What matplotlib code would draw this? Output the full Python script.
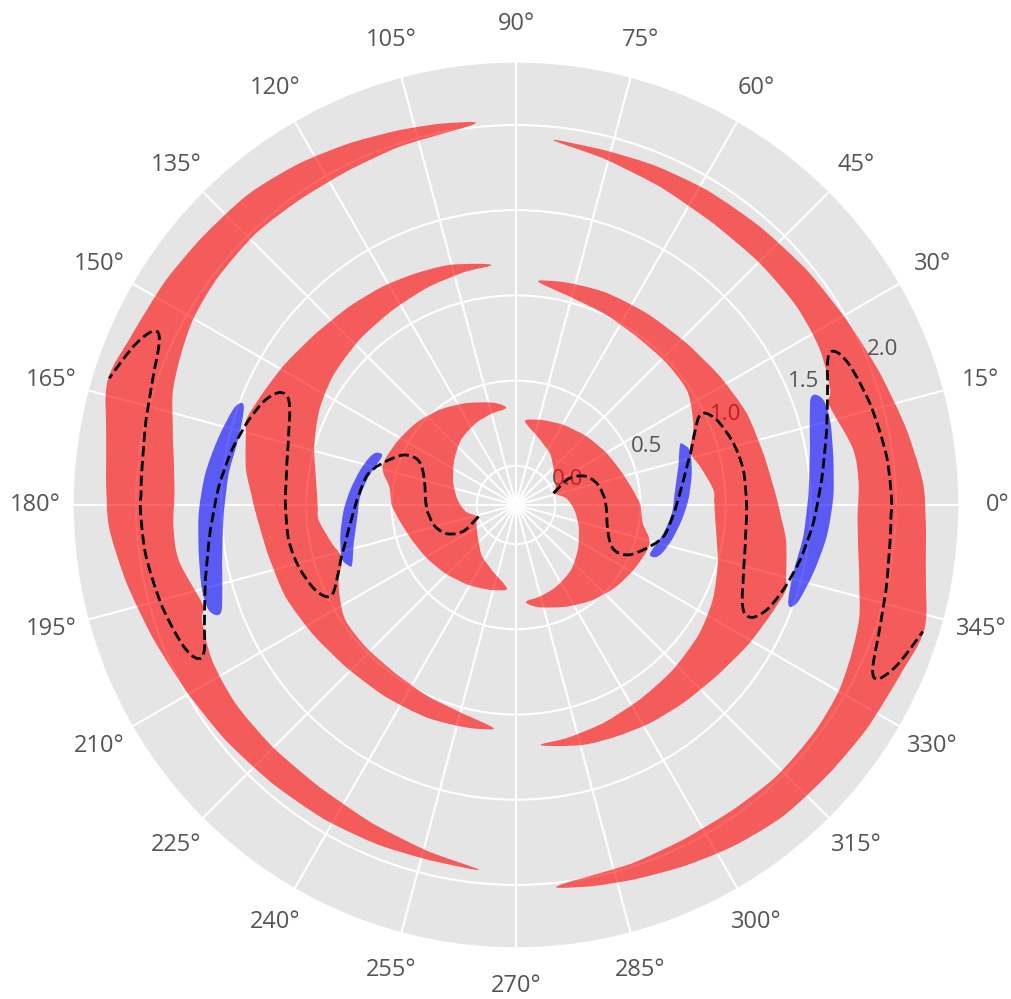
import numpy as np
import matplotlib
matplotlib.use('Agg')
import matplotlib.pyplot as plt
from matplotlib.path import Path
from matplotlib.patches import PathPatch

plt.style.use('ggplot')
plt.rcParams['font.family'] = ['Open Sans', 'DejaVu Sans']

# shapes of the right half, angle in degrees, radius in data units.
# the left half of the chart is the same set turned by 180 degrees.
red_inner_theta = [83.8, 74.2, 59.4, 44.0, 29.7, 18.6, 5.7, 0.0, -8.2, -16.0, -27.2, -39.2, -51.1,
                   -63.8, -78.9, -84.1, -75.0, -63.9, -49.8, -36.1, -19.1, -4.9, 7.6, 17.4, 23.0,
                   42.0, 56.0, 70.0]
red_inner_r = [0.263, 0.289, 0.316, 0.348, 0.383, 0.415, 0.470, 0.500, 0.522, 0.585, 0.563, 0.529, 0.487,
               0.436, 0.379, 0.341, 0.325, 0.305, 0.270, 0.219, 0.160, 0.114, 0.067, 0.0, 0.022,
               0.070, 0.130, 0.180]

red_mid_theta = [84.3, 78.9, 67.7, 55.7, 43.4, 32.2, 21.7, 11.8, 0.0, -7.4, -14.9, -17.5, -23.8,
                 -30.7, -40.6, -50.0, -58.6, -66.7, -74.5, -84.1, -77.9, -68.3, -57.7, -46.5, -35.0,
                 -25.8, -16.1, -7.1, 0.5, 4.3, 11.8, 17.0, 22.9, 28.0, 34.0, 43.2, 54.4, 65.5, 75.5]
red_mid_r = [1.087, 1.106, 1.123, 1.132, 1.150, 1.185, 1.227, 1.253, 1.310, 1.368, 1.410, 1.431, 1.395,
             1.362, 1.317, 1.291, 1.272, 1.251, 1.232, 1.187, 1.171, 1.149, 1.124, 1.106, 1.084,
             1.052, 1.003, 0.953, 0.934, 0.932, 0.874, 0.839, 0.900, 0.940, 0.978, 0.984, 0.986, 1.007, 1.033]

red_outer_theta = [84.2, 76.2, 68.0, 58.8, 48.8, 38.9, 29.2, 19.9, 10.9, 3.0, -2.6, -9.5, -17.0,
                   -24.1, -32.7, -39.9, -49.4, -57.6, -65.3, -72.7, -79.1, -84.0, -79.9, -72.0, -63.5,
                   -54.6, -46.3, -36.9, -29.8, -23.3, -18.0, -11.3, -3.1, 3.6, 9.3, 17.4, 20.1, 27.0,
                   35.2, 44.7, 55.0, 65.7, 75.9]
red_outer_r = [1.923, 1.916, 1.922, 1.931, 1.942, 1.964, 1.994, 2.042, 2.105, 2.163, 2.178, 2.209, 2.276,
               2.235, 2.212, 2.193, 2.177, 2.144, 2.107, 2.074, 2.050, 2.026, 1.995, 1.981, 1.966,
               1.966, 1.977, 1.971, 1.956, 1.921, 1.889, 1.824, 1.778, 1.785, 1.776, 1.701, 1.733, 1.773,
               1.787, 1.785, 1.788, 1.820, 1.868]

blue_inner_theta = [-19.8, -10.9, -3.1, 5.4, 13.3, 20.1, 19.5, 17.0, 10.2, 1.7, -5.2, -12.7, -18.3, -20.6]
blue_inner_r = [0.607, 0.651, 0.686, 0.708, 0.749, 0.795, 0.820, 0.839, 0.818, 0.782, 0.747, 0.707, 0.672, 0.642]

blue_outer_theta = [20.3, 18.5, 11.2, 1.6, -6.3, -13.8, -19.9, -19.3, -12.9, -5.8, 1.5, 8.7, 15.1, 18.9]
blue_outer_r = [1.630, 1.589, 1.529, 1.486, 1.466, 1.446, 1.469, 1.516, 1.560, 1.603, 1.633, 1.654, 1.679, 1.676]

wave_theta = [17.4, 26.3, 23.3, 15.0, 3.2, -1.1, -15.2, -24.1, -24.4, -19.6, -12.1, -1.8, 8.5, 16.6,
              24.3, 26.1, 22.9, 15.9, 8.8, -0.4, -10.3, -19.8, -24.8, -25.5, -22.7, -17.6, -11.0, -3.5,
              4.7, 13.6, 21.9, 25.4, 25.7, 23.1, 16.0, 7.4, 0.3, -2.8, -12.9, -20.5, -24.8, -25.7,
              -23.0, -17.3]
wave_r = [0.0, 0.103, 0.201, 0.261, 0.294, 0.299, 0.328, 0.392, 0.480, 0.560, 0.655, 0.704, 0.764, 0.840,
          0.934, 0.994, 1.050, 1.096, 1.120, 1.124, 1.137, 1.185, 1.240, 1.303, 1.365, 1.416, 1.468, 1.518,
          1.570, 1.646, 1.741, 1.799, 1.847, 1.890, 1.931, 1.964, 1.975, 1.973, 1.998, 2.036, 2.076, 2.126,
          2.193, 2.270]

r_ticks = [0.0, 0.5, 1.0, 1.5, 2.0]
theta_ticks = list(range(0, 360, 15))


def smooth_path(theta, r, closed):
    # bezier path through the points (catmull-rom handles), so the outline
    # is drawn as curves instead of straight chords
    p = np.column_stack([np.deg2rad(theta), r])
    if closed:
        q = np.vstack([p[-1], p, p[0], p[1]])
        n = len(p) + 1
    else:
        q = np.vstack([p[0], p, p[-1]])
        n = len(p)
    verts = [q[1]]
    codes = [Path.MOVETO]
    for i in range(1, n):
        c1 = q[i] + (q[i + 1] - q[i - 1]) / 6
        c2 = q[i + 1] - (q[i + 2] - q[i]) / 6
        verts += [c1, c2, q[i + 1]]
        codes += [Path.CURVE4] * 3
    return Path(verts, codes)


fig = plt.figure(figsize=(10.11, 9.99), dpi=100)
ax = fig.add_axes([0.0722, 0.0511, 0.8764, 0.8869], projection='polar')

reds = [(red_inner_theta, red_inner_r), (red_mid_theta, red_mid_r), (red_outer_theta, red_outer_r)]
blues = [(blue_inner_theta, blue_inner_r), (blue_outer_theta, blue_outer_r)]

for turn in [0, 180]:
    for th, r in reds:
        ax.add_patch(PathPatch(smooth_path(np.add(th, turn), r, True),
                               facecolor='red', alpha=0.6, lw=0))
    for th, r in blues:
        ax.add_patch(PathPatch(smooth_path(np.add(th, turn), r, True),
                               facecolor='blue', alpha=0.6, lw=0))
    ax.add_patch(PathPatch(smooth_path(np.add(wave_theta, turn), wave_r, False),
                           fill=False, edgecolor='black', linestyle='--', lw=2, zorder=3))

ax.set_ylim(-0.23, 2.37)
ax.set_rticks(r_ticks)
ax.set_thetagrids(theta_ticks, [str(t) + '°' for t in theta_ticks])
ax.grid(color='white', linewidth=1.5)
ax.tick_params(axis='x', pad=17, labelsize=17, colors='#555555')
ax.tick_params(axis='y', labelsize=16, colors='#555555')

fig.savefig('out.png', dpi=100)
